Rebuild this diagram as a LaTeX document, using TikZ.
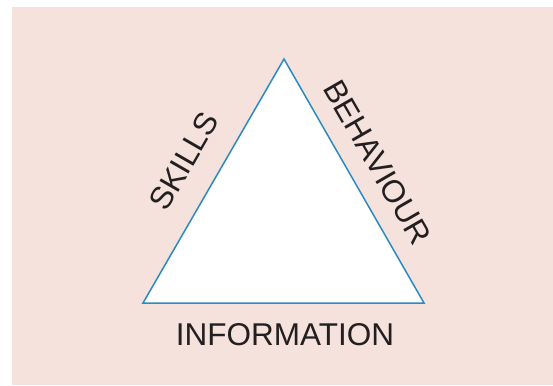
\documentclass[tikz,border=0pt]{standalone}
\usepackage{fontspec}
\setmainfont{Liberation Sans}
\definecolor{panelbg}{HTML}{F5E2DC}
\definecolor{edgeblue}{HTML}{2A8BC2}
\definecolor{labeltext}{HTML}{231F20}
\begin{document}
\begin{tikzpicture}[x=1pt,y=-1pt,
  sidelabel/.style={inner sep=0pt,text=labeltext,font=\fontsize{31.5}{36}\selectfont},
  edge/.style={draw=edgeblue,line width=1.5pt,line join=miter}]
  \useasboundingbox (0,0) rectangle (553,385);
  % background panel
  \fill[panelbg] (12,7) rectangle (553,385);
  % corners of the triangle
  \coordinate (apex) at (284,59);
  \coordinate (left) at (143,303);
  \coordinate (right) at (424,303);
  \filldraw[edge,fill=white] (apex) -- (left) -- (right) -- cycle;
  % side labels
  \node[sidelabel,rotate=60] (skills) at (184,161) {SKILLS};
  \node[sidelabel,rotate=-60] (behaviour) at (377.5,162.5) {BEHAVIOUR};
  \node[sidelabel] (information) at (285,334.5) {INFORMATION};
\end{tikzpicture}
\end{document}
